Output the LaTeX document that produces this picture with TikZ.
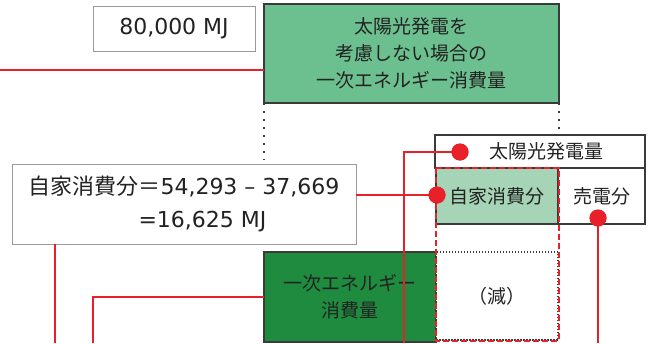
\documentclass[tikz,border=0pt]{standalone}
\usepackage{fontspec}
\setmainfont{DejaVu Sans}
\newfontfamily\jp{Noto Sans CJK JP}
\definecolor{midgreen}{HTML}{6CBF8E}
\definecolor{lightgreen}{HTML}{A5D4B6}
\definecolor{darkgreen}{HTML}{1E8B3F}
\definecolor{hlred}{HTML}{E8202A}
\definecolor{boxgray}{HTML}{9A9A9A}
\definecolor{edge}{HTML}{3A3A3A}
\definecolor{txt}{HTML}{222222}
\begin{document}
\begin{tikzpicture}[x=1pt,y=-1pt,
  box/.style={draw=edge, line width=1.2pt, inner sep=0pt, outer sep=0pt, text=txt, align=center},
  graybox/.style={draw=boxgray, line width=1pt, inner sep=0pt, outer sep=0pt, text=txt},
  redline/.style={draw=hlred, line width=2pt},
  reddot/.style={circle, fill=hlred, minimum size=17pt, inner sep=0pt},
  dotline/.style={draw=edge, line width=2pt, dash pattern=on 2pt off 6pt},
  jpl/.style={font=\jp\fontsize{19}{27}\selectfont},
  reddash/.style={draw=hlred, line width=1.6pt, dash pattern=on 6pt off 3pt}
]
\useasboundingbox (0,0) rectangle (648,343);
\fill[white] (0,0) rectangle (648,343);

% boxes
\node[graybox, minimum width=162pt, minimum height=45pt, font=\fontsize{22}{26}\selectfont] (mj) at (174,28.5) {80,000 MJ};
\node[box, fill=midgreen, minimum width=295pt, minimum height=99pt, jpl] (top) at (411.5,53.5) {太陽光発電を\\考慮しない場合の\\一次エネルギー消費量};
\node[box, fill=white, minimum width=210pt, minimum height=33pt, jpl] (solar) at (540,151.5) {\hspace{12pt}太陽光発電量};
\node[box, fill=lightgreen, minimum width=122pt, minimum height=56pt, jpl] (self) at (497,196) {自家消費分};
\node[box, fill=white, minimum width=87pt, minimum height=56pt, jpl] (sell) at (601.5,196) {売電分};
\node[graybox, fill=white, minimum width=344pt, minimum height=80pt, align=left, font=\fontsize{22}{33}\selectfont] (calc) at (184,204) {{\jp 自家消費分＝}54,293 – 37,669\\\hphantom{\jp 自家消費分}=16,625 MJ};
\node[box, fill=darkgreen, minimum width=172pt, minimum height=90pt, jpl] (prim) at (350,297) {一次エネルギー\\消費量};
\node[draw=edge, line width=1.5pt, dash pattern=on 1.5pt off 1.5pt, fill=white, inner sep=0pt, minimum width=122pt, minimum height=88pt, text=txt, jpl] (gen) at (497,296) {（減）};

% dotted connectors
\coordinate (dl) at (264,160);
\draw[dotline] (top.south west) -- (dl);
\draw[dotline] (top.south east) -- (top.south east |- solar.north);

% red dashed frame
\draw[reddash] (self.north west) rectangle (gen.south east);

% red leader lines
\coordinate (e0) at (0,70);
\coordinate (b1) at (404,343);
\coordinate (b3) at (93,343);
\coordinate (b4) at (55,343);
\node[reddot] (d1) at (460,152) {};
\node[reddot] (d2) at (437,195) {};
\node[reddot] (d3) at (598,218) {};
\begin{scope}[on background layer/.style={}]
\end{scope}
\draw[redline] (e0) -- (top.west |- e0);
\draw[redline] (d1.center) -| (b1);
\draw[redline] (calc.east |- d2) -- (d2.center);
\draw[redline] (d3.center) -- (d3.center |- b1);
\draw[redline] (prim.west) -| (b3);
\draw[redline] (calc.south -| b4) -- (b4);
\fill[hlred] (d1) circle (8.5pt);
\fill[hlred] (d2) circle (8.5pt);
\fill[hlred] (d3) circle (8.5pt);
\end{tikzpicture}
\end{document}
